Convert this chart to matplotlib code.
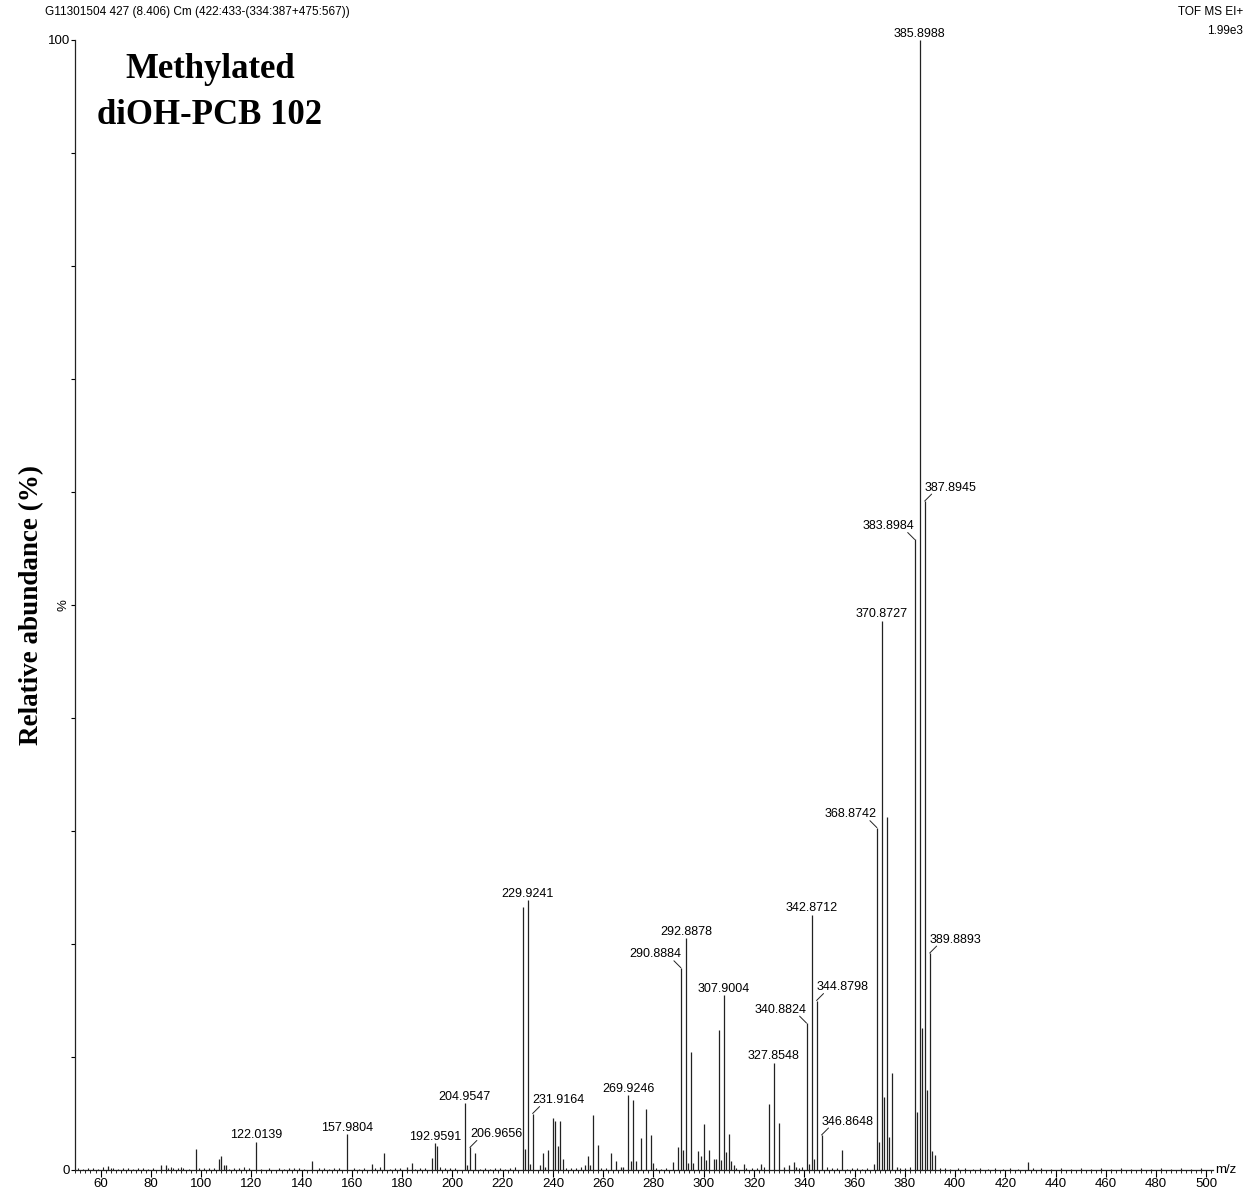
import matplotlib
matplotlib.use("Agg")
import matplotlib.pyplot as plt

plt.rcParams['font.family'] = ['Liberation Sans', 'DejaVu Sans']

# labelled / main peaks (m/z, relative abundance %)
peak_mz = [62.96, 83.95, 85.95, 97.97, 106.96, 107.97, 108.97, 109.97, 122.0139,
           143.95, 157.9804, 167.96, 172.96, 181.95, 183.96, 191.95, 192.9591, 193.96,
           204.9547, 205.96, 206.9656, 208.96, 227.9271, 228.93, 229.9241, 230.93,
           231.9164, 234.93, 235.93, 236.93, 237.93, 239.92, 240.93, 241.92, 242.92,
           243.93, 252.93, 253.93, 254.93, 255.93, 257.92, 262.93, 264.93, 266.93,
           267.93, 269.9246, 270.93, 271.92, 272.93, 274.92, 276.92, 278.92, 279.92,
           287.90, 289.89, 290.8884, 291.89, 292.8878, 293.89, 294.89, 295.89, 297.90,
           298.90, 299.90, 300.90, 301.90, 303.90, 304.90, 305.90, 306.90, 307.9004,
           308.90, 309.90, 310.90, 311.90, 315.86, 322.86, 325.86, 327.8548, 329.85,
           331.86, 333.86, 335.86, 336.86, 340.8824, 341.88, 342.8712, 343.87,
           344.8798, 346.8648, 354.88, 367.88, 368.8742, 369.88, 370.8727, 371.87,
           372.87, 373.87, 374.87, 376.88, 383.8984, 384.90, 385.8988, 386.90,
           387.8945, 388.90, 389.8893, 390.89, 391.89, 428.92]
peak_int = [0.35, 0.45, 0.45, 1.9, 1.0, 1.2, 0.4, 0.4, 2.5,
            0.8, 3.2, 0.5, 1.5, 0.25, 0.6, 1.1, 2.4, 2.1,
            5.9, 0.4, 2.0, 1.5, 23.3, 1.9, 23.9, 0.5,
            5.0, 0.4, 1.5, 0.3, 1.8, 4.6, 4.3, 2.1, 4.3,
            1.0, 0.4, 1.2, 0.4, 4.9, 2.2, 1.5, 0.8, 0.3,
            0.3, 6.6, 0.8, 6.2, 0.8, 2.8, 5.4, 3.1, 0.6,
            0.7, 2.0, 17.9, 1.8, 20.5, 0.6, 10.4, 0.6, 1.7,
            1.2, 4.1, 0.9, 1.8, 1.0, 1.0, 12.4, 0.9, 15.5,
            1.6, 3.2, 0.8, 0.4, 0.5, 0.5, 5.8, 9.5, 4.2,
            0.3, 0.4, 0.7, 0.3, 13.0, 0.5, 22.6, 1.0,
            15.0, 3.1, 1.8, 0.5, 30.3, 2.5, 48.6, 6.5,
            31.2, 2.9, 8.6, 0.3, 55.8, 5.1, 100.0, 12.6,
            59.2, 7.1, 19.2, 1.7, 1.3, 0.7]

# baseline noise peaks
noise_mz = [51.0, 53.0, 55.0, 57.0, 59.0, 61.0, 64.0, 65.0, 67.0, 69.0, 71.0, 73.0,
            75.0, 77.0, 79.0, 81.0, 87.0, 88.0, 89.0, 91.0, 92.0, 93.0, 95.0, 99.0,
            101.0, 103.0, 105.0, 111.0, 113.0, 115.0, 117.0, 119.0, 124.0, 127.0, 131.0,
            133.0, 135.0, 137.0, 139.0, 141.0, 147.0, 149.0, 151.0, 153.0, 155.0, 161.0,
            163.0, 165.0, 169.0, 171.0, 175.0, 177.0, 179.0, 185.0, 187.0, 189.0, 195.0,
            197.0, 199.0, 201.0, 211.0, 213.0, 215.0, 217.0, 219.0, 221.0, 223.0, 225.0,
            245.0, 247.0, 249.0, 251.0, 259.0, 261.0, 281.0, 283.0, 285.0, 313.0, 317.0,
            319.0, 321.0, 323.9, 337.9, 339.0, 348.9, 351.0, 353.0, 357.0, 359.0, 361.0,
            363.0, 365.0, 378.0, 380.0, 381.9, 393.9, 396.0, 398.0, 401.0, 404.0, 407.0,
            410.0, 413.0, 416.0, 419.0, 422.0, 425.0, 431.0, 434.0, 438.0, 442.0, 446.0,
            450.0, 454.0, 458.0, 462.0, 466.0, 470.0, 474.0, 478.0, 482.0, 486.0, 490.0,
            494.0, 498.0]
noise_int = [0.15, 0.1, 0.2, 0.15, 0.1, 0.25, 0.2, 0.15, 0.1, 0.2, 0.15, 0.1,
             0.15, 0.2, 0.1, 0.15, 0.2, 0.25, 0.15, 0.2, 0.3, 0.15, 0.1, 0.2,
             0.15, 0.2, 0.15, 0.1, 0.15, 0.2, 0.25, 0.15, 0.1, 0.15, 0.2,
             0.1, 0.2, 0.15, 0.2, 0.1, 0.15, 0.2, 0.1, 0.15, 0.2, 0.15,
             0.1, 0.2, 0.15, 0.25, 0.1, 0.15, 0.2, 0.1, 0.15, 0.2, 0.25,
             0.15, 0.2, 0.15, 0.1, 0.15, 0.1, 0.2, 0.15, 0.1, 0.2, 0.25,
             0.2, 0.15, 0.2, 0.25, 0.2, 0.15, 0.2, 0.1, 0.15, 0.2, 0.15,
             0.2, 0.15, 0.3, 0.2, 0.25, 0.3, 0.15, 0.2, 0.1, 0.15, 0.2,
             0.1, 0.15, 0.2, 0.15, 0.3, 0.2, 0.15, 0.1, 0.15, 0.2, 0.1,
             0.15, 0.1, 0.2, 0.1, 0.15, 0.1, 0.2, 0.15, 0.1, 0.15, 0.1,
             0.15, 0.1, 0.15, 0.1, 0.15, 0.1, 0.15, 0.1, 0.15, 0.1, 0.15,
             0.1, 0.15]

# labels: text and how it is placed ('c' above, 'l' left leader, 'r' right leader)
label_mz = [122.0139, 157.9804, 192.9591, 204.9547, 206.9656, 229.9241, 231.9164,
            269.9246, 290.8884, 292.8878, 307.9004, 327.8548, 340.8824, 342.8712,
            344.8798, 346.8648, 368.8742, 370.8727, 383.8984, 385.8988, 387.8945,
            389.8893]
label_side = ['c', 'c', 'c', 'c', 'r', 'c', 'r',
              'c', 'l', 'c', 'c', 'c', 'l', 'c',
              'r', 'r', 'l', 'c', 'l', 'c', 'r',
              'r']

fig = plt.figure(figsize=(12.45, 11.9), dpi=100)
ax = fig.add_axes([75.4 / 1245, 20 / 1190, (1213 - 75.4) / 1245, 1130 / 1190])

ax.vlines(noise_mz, 0, noise_int, colors='#222222', lw=0.8)
ax.vlines(peak_mz, 0, peak_int, colors='#222222', lw=0.9)

ax.set_xlim(50, 502.6)
ax.set_ylim(0, 100)

for s in ['top', 'right']:
    ax.spines[s].set_visible(False)
for s in ['left', 'bottom']:
    ax.spines[s].set_linewidth(0.9)
    ax.spines[s].set_color('#222222')

ax.set_xticks(range(60, 501, 20))
ax.set_xticks(range(50, 503, 2), minor=True)
ax.tick_params(axis='x', which='major', length=5, width=0.8, labelsize=9.5, pad=1)
ax.tick_params(axis='x', which='minor', length=2.5, width=0.6)

ax.set_yticks(range(0, 101, 10))
ylabels = ['0', '', '', '', '', '%', '', '', '', '', '100']
ax.set_yticklabels(ylabels)
ax.tick_params(axis='y', length=3, width=0.8, labelsize=9.5, pad=1)
ax.get_yticklabels()[5].set_rotation(90)
ax.get_yticklabels()[5].set_va('center')

ax.text(1.002, 0, 'm/z', transform=ax.transAxes, fontsize=9.5, ha='left', va='center')

for mz, side in zip(label_mz, label_side):
    h = peak_int[peak_mz.index(mz)]
    txt = f'{mz:.4f}'
    if side == 'c':
        ax.annotate(txt, xy=(mz, h), xytext=(0, 2.4), textcoords='offset points',
                    ha='center', va='baseline', fontsize=9, annotation_clip=False)
    else:
        sgn = 1 if side == 'r' else -1
        ax.annotate('', xy=(mz, h), xytext=(sgn * 5, 5), textcoords='offset points',
                    arrowprops=dict(arrowstyle='-', lw=0.7, color='#222222',
                                    shrinkA=0, shrinkB=0), annotation_clip=False)
        ax.annotate(txt, xy=(mz, h), xytext=(0, 7.5), textcoords='offset points',
                    ha='left' if side == 'r' else 'right', va='baseline', fontsize=9,
                    annotation_clip=False)

fig.text(45 / 1245, 1 - 12 / 1190, 'G11301504 427 (8.406) Cm (422:433-(334:387+475:567))',
         fontsize=8.5, ha='left', va='center')
fig.text(1243 / 1245, 1 - 12 / 1190, 'TOF MS EI+', fontsize=8.5, ha='right', va='center')
fig.text(1243 / 1245, 1 - 31 / 1190, '1.99e3', fontsize=8.5, ha='right', va='center')

fig.text(210 / 1245, 1 - 70 / 1190, 'Methylated', fontsize=25,
         family='Liberation Serif', weight='bold', ha='center', va='center')
fig.text(210 / 1245, 1 - 115 / 1190, 'diOH-PCB 102', fontsize=25,
         family='Liberation Serif', weight='bold', ha='center', va='center')
fig.text(32 / 1245, 1 - 605 / 1190, 'Relative abundance (%)', fontsize=19.5,
         family='Liberation Serif', weight='bold', rotation=90, ha='center', va='center')

fig.savefig('out.png', dpi=100)
